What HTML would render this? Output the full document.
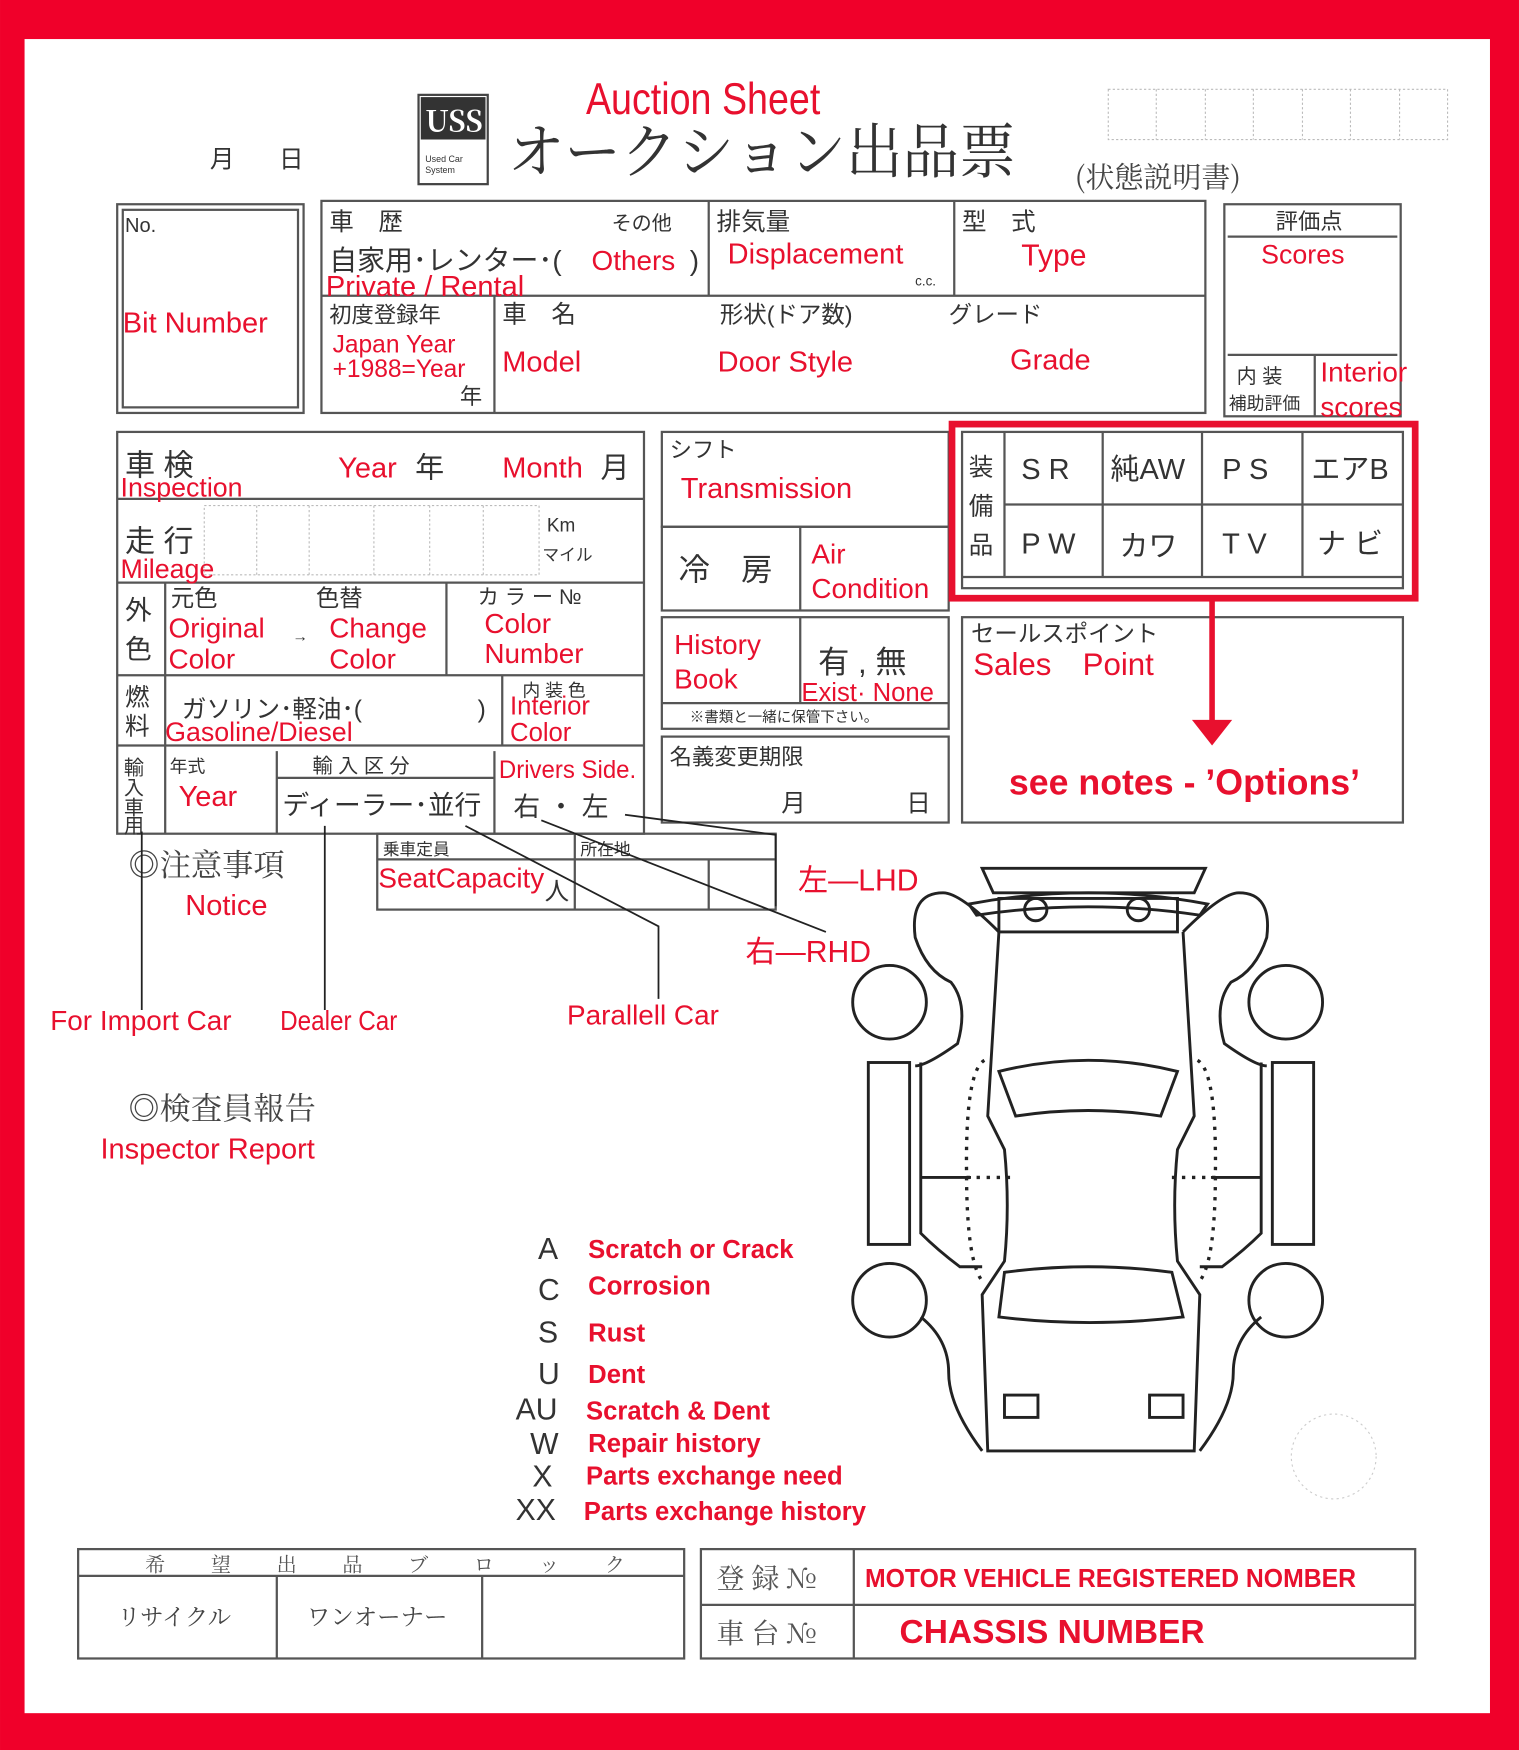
<!DOCTYPE html>
<html><head><meta charset="utf-8"><style>
html,body{margin:0;padding:0;background:#fff}
svg{display:block}
text{font-family:"Liberation Sans","Noto Sans CJK JP",sans-serif}
.r{fill:#e8102e}
.k{fill:#333}
.s{font-family:"Noto Serif CJK SC","Liberation Serif",serif}
.b{fill:none;stroke:#555;stroke-width:2}
.c{fill:none;stroke:#222;stroke-width:2.6}
</style></head><body>
<svg width="1519" height="1750" viewBox="0 0 1361 1568" xmlns="http://www.w3.org/2000/svg">
<rect x="0" y="0" width="1361" height="1568" fill="#f0002a"/>
<rect x="22" y="35" width="1313" height="1500" fill="#fff"/>

<!-- header -->
<text x="525" y="102" class="r" font-size="40" textLength="210" lengthAdjust="spacingAndGlyphs">Auction Sheet</text>
<text x="455" y="155" class="s" font-size="54" fill="#333" textLength="455" lengthAdjust="spacingAndGlyphs">オークション出品票</text>
<rect x="375" y="85" width="62" height="80" fill="#fff" stroke="#444" stroke-width="2"/>
<rect x="377" y="87" width="58" height="38" fill="#333"/>
<text x="381" y="118" fill="#fff" font-size="26" font-weight="bold" class="s">USS</text>
<text x="381" y="145" font-size="8" class="k">Used Car</text>
<text x="381" y="155" font-size="8" class="k">System</text>
<text x="188" y="150" font-size="22" class="k">月</text>
<text x="250" y="150" font-size="22" class="k">日</text>
<text x="963" y="168" class="s" font-size="26" fill="#444">(状態説明書)</text>
<g stroke="#bbb" stroke-dasharray="2,2" fill="none"><rect x="993" y="80" width="304" height="45"/>
<path d="M1036 80v45M1080 80v45M1123 80v45M1167 80v45M1210 80v45M1254 80v45"/></g>

<!-- Bit number -->
<rect x="105" y="183" width="167" height="187" class="b" stroke-width="3"/>
<rect x="110" y="188" width="157" height="177" class="b" stroke-width="1"/>
<text x="112" y="208" font-size="18" class="k">No.</text>
<text x="110" y="298" class="r" font-size="26">Bit Number</text>

<!-- main top box -->
<rect x="288" y="180" width="792" height="190" class="b"/>
<path class="b" d="M288 265H1080M635 180V265M855 180V265M443 265V370"/>
<text x="295" y="206" font-size="22" class="k">車　歴</text>
<text x="548" y="206" font-size="18" class="k">その他</text>
<text x="295" y="242" font-size="25" class="k">自家用･レンター･(</text>
<text x="530" y="242" font-size="25" class="r">Others</text><text x="618" y="242" font-size="25" class="k">)</text>
<text x="292" y="265" font-size="26" class="r">Private / Rental</text>
<text x="642" y="206" font-size="22" class="k">排気量</text>
<text x="652" y="236" font-size="26" class="r">Displacement</text>
<text x="820" y="256" font-size="12" class="k">c.c.</text>
<text x="862" y="206" font-size="22" class="k">型　式</text>
<text x="915" y="238" font-size="27" class="r">Type</text>
<text x="295" y="289" font-size="20" class="k">初度登録年</text>
<text x="298" y="316" font-size="22" class="r">Japan Year</text>
<text x="298" y="338" font-size="22" class="r">+1988=Year</text>
<text x="412" y="362" font-size="20" class="k">年</text>
<text x="450" y="289" font-size="22" class="k">車　名</text>
<text x="450" y="333" font-size="26" class="r">Model</text>
<text x="645" y="289" font-size="21" class="k">形状(ドア数)</text>
<text x="643" y="333" font-size="26" class="r">Door Style</text>
<text x="850" y="289" font-size="21" class="k">グレード</text>
<text x="905" y="331" font-size="26" class="r">Grade</text>

<!-- scores -->
<rect x="1097" y="183" width="158" height="190" class="b" stroke-width="3"/>
<path class="b" d="M1100 212H1252M1100 318H1252M1178 318V373"/>
<text x="1143" y="205" font-size="20" class="k">評価点</text>
<text x="1130" y="236" font-size="24" class="r">Scores</text>
<text x="1108" y="343" font-size="18" class="k">内 装</text>
<text x="1101" y="367" font-size="16" class="k">補助評価</text>
<text x="1183" y="342" font-size="25" class="r">Interior</text>
<text x="1183" y="373" font-size="25" class="r">scores</text>

<!-- left middle block -->
<rect x="105" y="387" width="472" height="360" class="b"/>
<path class="b" d="M105 447H577M105 522H577M105 605H577M105 668H577M148 522V747M400 522V605M450 605V668M248 673V747M443 673V747M248 697H443"/>
<text x="112" y="426" font-size="27" class="k">車 検</text>
<text x="108" y="445" font-size="24" class="r">Inspection</text>
<text x="303" y="428" font-size="26" class="r">Year</text><text x="372" y="428" font-size="26" class="k">年</text>
<text x="450" y="428" font-size="26" class="r">Month</text><text x="538" y="428" font-size="26" class="k">月</text>
<text x="112" y="494" font-size="27" class="k">走 行</text>
<text x="108" y="518" font-size="24" class="r">Mileage</text>
<g stroke="#bbb" stroke-dasharray="2,2" fill="none"><rect x="183" y="453" width="300" height="62"/>
<path d="M230 453v62M277 453v62M335 453v62M385 453v62M433 453v62"/></g>
<text x="490" y="476" font-size="17" class="k">Km</text>
<text x="486" y="502" font-size="15" class="k">マイル</text>
<text x="112" y="555" font-size="24" class="k">外</text><text x="112" y="590" font-size="24" class="k">色</text>
<text x="153" y="543" font-size="21" class="k">元色</text><text x="283" y="543" font-size="21" class="k">色替</text>
<text x="151" y="571" font-size="25" class="r">Original</text><text x="151" y="599" font-size="25" class="r">Color</text>
<text x="262" y="575" font-size="14" class="k">→</text>
<text x="295" y="571" font-size="25" class="r">Change</text><text x="295" y="599" font-size="25" class="r">Color</text>
<text x="428" y="541" font-size="19" class="k">カ ラ ー №</text>
<text x="434" y="567" font-size="25" class="r">Color</text><text x="434" y="594" font-size="25" class="r">Number</text>
<text x="112" y="632" font-size="22" class="k">燃</text><text x="112" y="658" font-size="22" class="k">料</text>
<text x="163" y="643" font-size="22" class="k">ガソリン･軽油･(</text><text x="428" y="643" font-size="22" class="k">)</text>
<text x="148" y="664" font-size="24" class="r">Gasoline/Diesel</text>
<text x="468" y="624" font-size="16" class="k">内 装 色</text>
<text x="457" y="640" font-size="23" class="r">Interior</text><text x="457" y="664" font-size="23" class="r">Color</text>
<text x="111" y="694" font-size="18" class="k">輸</text><text x="111" y="712" font-size="18" class="k">入</text><text x="111" y="730" font-size="18" class="k">車</text><text x="111" y="746" font-size="18" class="k">用</text>
<text x="152" y="692" font-size="16" class="k">年式</text>
<text x="160" y="722" font-size="26" class="r">Year</text>
<text x="280" y="692" font-size="18" class="k">輸 入 区 分</text>
<text x="253" y="730" font-size="24" class="k">ディーラー･並行</text>
<text x="447" y="697" font-size="22" class="r" textLength="123" lengthAdjust="spacingAndGlyphs">Drivers Side.</text>
<text x="460" y="731" font-size="24" class="k">右 ・ 左</text>

<!-- middle column -->
<rect x="593" y="387" width="257" height="85" class="b"/>
<text x="600" y="410" font-size="20" class="k">シフト</text>
<text x="610" y="446" font-size="26" class="r">Transmission</text>
<rect x="593" y="472" width="257" height="75" class="b"/>
<path class="b" d="M717 472V547"/>
<text x="608" y="520" font-size="28" class="k">冷　房</text>
<text x="727" y="505" font-size="25" class="r">Air</text>
<text x="727" y="536" font-size="25" class="r">Condition</text>
<rect x="593" y="553" width="257" height="100" class="b"/>
<path class="b" d="M717 553V630M593 630H850"/>
<text x="604" y="586" font-size="25" class="r">History</text>
<text x="604" y="617" font-size="25" class="r">Book</text>
<text x="733" y="603" font-size="28" class="k">有 , 無</text>
<text x="718" y="628" font-size="23" class="r">Exist· None</text>
<text x="618" y="647" font-size="13" class="k">※書類と一緒に保管下さい。</text>
<rect x="593" y="660" width="257" height="77" class="b"/>
<text x="600" y="685" font-size="20" class="k">名義変更期限</text>
<text x="700" y="727" font-size="22" class="k">月</text><text x="812" y="727" font-size="22" class="k">日</text>

<!-- options -->
<rect x="862" y="387" width="395" height="140" class="b"/>
<path class="b" d="M900 387V517M900 452H1257M988 387V517M1077 387V517M1167 387V517M862 517H1257"/>
<text x="868" y="426" font-size="22" class="k">装</text><text x="868" y="461" font-size="22" class="k">備</text><text x="868" y="496" font-size="22" class="k">品</text>
<g font-size="26" class="k">
<text x="915" y="429">S R</text><text x="995" y="429">純AW</text><text x="1095" y="429">P S</text><text x="1175" y="429">エアB</text>
<text x="915" y="496">P W</text><text x="1003" y="498">カワ</text><text x="1095" y="496">T V</text><text x="1180" y="496">ナ ビ</text></g>
<rect x="853" y="380" width="415" height="156" fill="none" stroke="#e8102e" stroke-width="6"/>
<rect x="862" y="553" width="395" height="184" class="b"/>
<text x="870" y="575" font-size="21" class="k">セールスポイント</text>
<text x="872" y="605" font-size="28" class="r">Sales　Point</text>
<path d="M1086 538V648" stroke="#e8102e" stroke-width="5"/>
<path d="M1068 645L1104 645L1086 668Z" fill="#e8102e"/>
<text x="904" y="712" font-size="32" class="r" font-weight="bold">see notes - ’Options’</text>

<!-- notice -->
<text x="115" y="785" class="s" font-size="28" fill="#444">◎注意事項</text>
<text x="166" y="820" font-size="26" class="r">Notice</text>
<rect x="338" y="747" width="357" height="68" class="b"/>
<path class="b" d="M338 770H695M515 747V815M635 770V815"/>
<text x="343" y="766" font-size="15" class="k">乗車定員</text>
<text x="520" y="766" font-size="15" class="k">所在地</text>
<text x="339" y="795" font-size="25" class="r">SeatCapacity</text>
<text x="488" y="806" font-size="22" class="k">人</text>
<g stroke="#222" stroke-width="1.6" fill="none">
<path d="M127 745V905M291 740V905M417 740L590 830V895M485 735L740 835M560 730L695 748V812"/>
</g>
<text x="715" y="798" font-size="27" class="r">左—LHD</text>
<text x="668" y="862" font-size="27" class="r">右—RHD</text>
<text x="45" y="923" font-size="25" class="r">For Import Car</text>
<text x="251" y="923" font-size="25" class="r" textLength="105" lengthAdjust="spacingAndGlyphs">Dealer Car</text>
<text x="508" y="918" font-size="25" class="r">Parallell  Car</text>

<text x="115" y="1003" class="s" font-size="28" fill="#444">◎検査員報告</text>
<text x="90" y="1038" font-size="26" class="r">Inspector Report</text>

<!-- legend -->
<g font-size="27" class="k">
<text x="482" y="1128">A</text><text x="482" y="1165">C</text><text x="482" y="1203">S</text><text x="482" y="1240">U</text>
<text x="462" y="1272">AU</text><text x="475" y="1303">W</text><text x="477" y="1332">X</text><text x="462" y="1362">XX</text></g>
<g font-size="23" class="r" font-weight="bold">
<text x="527" y="1127">Scratch or Crack</text><text x="527" y="1160">Corrosion</text><text x="527" y="1202">Rust</text>
<text x="527" y="1239">Dent</text><text x="525" y="1272">Scratch &amp; Dent</text><text x="527" y="1301">Repair history</text>
<text x="525" y="1330">Parts exchange need</text><text x="523" y="1362">Parts exchange history</text></g>

<!-- car -->
<g class="c">
<path d="M880 778H1080L1070 800H890Z"/>
<path d="M868 810Q975 790 1082 810L1075 820Q975 805 875 820Z"/>
<rect x="895" y="805" width="160" height="30"/>
<circle cx="928" cy="815" r="10"/><circle cx="1020" cy="815" r="10"/>
<path d="M895 835L885 1000L900 1030Q905 1080 900 1130L880 1160L885 1300H1070L1075 1160L1055 1130Q1050 1080 1055 1030L1070 1000L1060 835"/>
<path d="M895 960Q975 940 1055 960L1040 1000Q975 990 910 1000Z"/>
<path d="M900 1140Q975 1130 1050 1140L1060 1180Q975 1190 895 1180Z"/>
<rect x="900" y="1250" width="30" height="20"/><rect x="1030" y="1250" width="30" height="20"/>
<path d="M895 835Q860 800 845 800Q815 800 820 840Q830 870 852 880Q868 900 858 935Q830 955 820 955"/>
<path d="M1060 835Q1095 800 1110 800Q1140 800 1135 840Q1125 870 1103 880Q1087 900 1097 935Q1125 955 1135 955"/>
<circle cx="797" cy="898" r="33"/><circle cx="1152" cy="898" r="33"/>
<circle cx="797" cy="1165" r="33"/><circle cx="1152" cy="1165" r="33"/>
<rect x="778" y="952" width="37" height="163"/><rect x="1140" y="952" width="37" height="163"/>
<path d="M825 952V1105Q840 1120 860 1135H880"/><path d="M1130 952V1105Q1115 1120 1095 1135H1075"/>
<path d="M825 1055H870M1130 1055H1085"/>
<path d="M825 1180Q850 1200 850 1230Q850 1260 880 1300"/>
<path d="M1130 1180Q1105 1200 1105 1230Q1105 1260 1075 1300"/>
</g>
<g fill="none" stroke="#222" stroke-width="3" stroke-dasharray="3,6">
<path d="M882 950Q865 960 866 1050Q866 1135 882 1150"/><path d="M1073 950Q1090 960 1089 1050Q1089 1135 1073 1150"/>
<path d="M866 1055H905M1089 1055H1050"/></g>
<circle cx="1195" cy="1305" r="38" fill="none" stroke="#ccc" stroke-dasharray="2,3"/>

<!-- bottom -->
<rect x="70" y="1388" width="543" height="98" class="b"/>
<path class="b" d="M70 1412H613M248 1412V1486M432 1412V1486"/>
<text x="130" y="1408" class="s" font-size="18" fill="#555" textLength="430" lengthAdjust="spacing">希望出品ブロック</text>
<text x="105" y="1456" class="s" font-size="21" fill="#444">リサイクル</text>
<text x="275" y="1456" class="s" font-size="21" fill="#444">ワンオーナー</text>
<rect x="628" y="1388" width="640" height="98" class="b"/>
<path class="b" d="M628 1438H1268M765 1388V1486"/>
<text x="642" y="1423" class="s" font-size="25" fill="#555">登 録 №</text>
<text x="642" y="1472" class="s" font-size="25" fill="#555">車 台 №</text>
<text x="775" y="1422" font-size="23" class="r" font-weight="bold" textLength="440" lengthAdjust="spacingAndGlyphs">MOTOR VEHICLE  REGISTERED NOMBER</text>
<text x="806" y="1472" font-size="30" class="r" font-weight="bold">CHASSIS NUMBER</text>
</svg>
</body></html>
